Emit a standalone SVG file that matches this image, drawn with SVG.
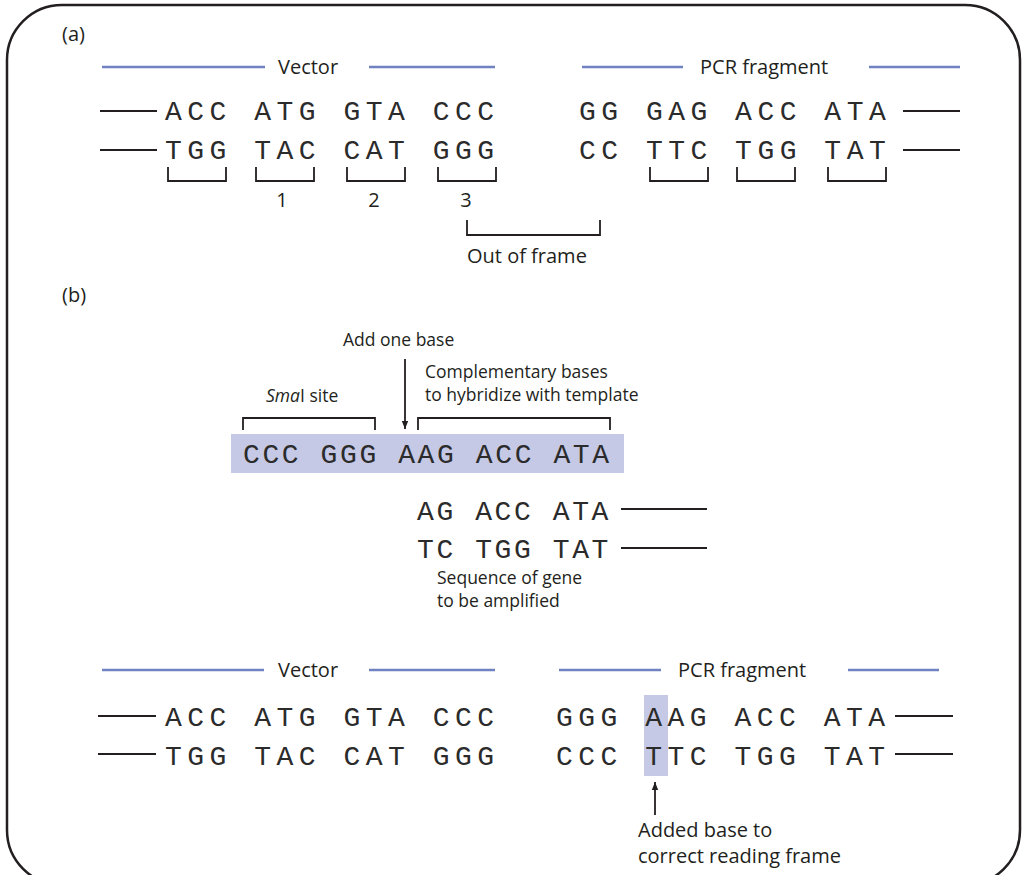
<svg xmlns="http://www.w3.org/2000/svg" width="1024" height="875" viewBox="0 0 1024 875">
<style>
.sans{font-family:"Open Sans","Noto Sans","Liberation Sans",sans-serif;font-size:20px;fill:#231f20}
.note{font-size:17.5px}
.mono{font-family:"Liberation Mono","Courier New",monospace;font-size:28px;fill:#2b2b2b}
.wide{letter-spacing:5.5px}
.tight{letter-spacing:2.6px}
.blue{stroke:#7182c2;stroke-width:2.5;fill:none}
.blk{stroke:#231f20;stroke-width:2;fill:none}
.br{stroke:#231f20;stroke-width:1.8;fill:none}
</style>
<defs>
<marker id="ah" viewBox="0 0 10 10" refX="10" refY="5" markerWidth="8" markerHeight="8" markerUnits="userSpaceOnUse" orient="auto"><path d="M0,1 L10,5 L0,9 Z" fill="#231f20"/></marker>
</defs>
<rect x="7" y="5" width="1013" height="880" rx="55" ry="55" fill="#fff" stroke="#231f20" stroke-width="2.5"/>

<g id="panel-a">
<text class="sans" x="62" y="41">(a)</text>
<g id="a-vector-label">
<line class="blue" x1="102" y1="67" x2="265" y2="67"/>
<text class="sans" x="278" y="74">Vector</text>
<line class="blue" x1="369" y1="67" x2="495" y2="67"/>
</g>
<g id="a-pcr-label">
<line class="blue" x1="582" y1="67" x2="683" y2="67"/>
<text class="sans" x="700" y="74">PCR fragment</text>
<line class="blue" x1="869" y1="67" x2="960" y2="67"/>
</g>
<g id="a-vector-seq">
<line class="blk" x1="100" y1="111" x2="157" y2="111"/>
<line class="blk" x1="100" y1="150" x2="157" y2="150"/>
<text class="mono wide" x="165" y="120">ACC ATG GTA CCC</text>
<text class="mono wide" x="165" y="159">TGG TAC CAT GGG</text>
</g>
<g id="a-pcr-seq">
<text class="mono wide" x="579" y="120">GG GAG ACC ATA</text>
<text class="mono wide" x="579" y="159">CC TTC TGG TAT</text>
<line class="blk" x1="903" y1="111" x2="960" y2="111"/>
<line class="blk" x1="903" y1="150" x2="960" y2="150"/>
</g>
<g id="a-codon-brackets">
<path class="br" d="M168,167 V181 H226 V167"/>
<path class="br" d="M256,167 V181 H314 V167"/>
<path class="br" d="M347,167 V181 H405 V167"/>
<path class="br" d="M438,167 V181 H496 V167"/>
<path class="br" d="M650,167 V181 H708 V167"/>
<path class="br" d="M737,167 V181 H795 V167"/>
<path class="br" d="M828,167 V181 H886 V167"/>
<text class="sans" x="282" y="207" text-anchor="middle">1</text>
<text class="sans" x="374" y="207" text-anchor="middle">2</text>
<text class="sans" x="466" y="207" text-anchor="middle">3</text>
</g>
<g id="a-out-of-frame">
<path class="br" d="M467,220 V235 H600 V220"/>
<text class="sans" x="467" y="263">Out of frame</text>
</g>
</g>

<g id="panel-b">
<text class="sans" x="62" y="302">(b)</text>
<g id="primer">
<rect x="231" y="434" width="393" height="39" fill="#c5c9e5"/>
<text class="mono tight" x="243" y="463">CCC GGG AAG ACC ATA</text>
<path class="br" d="M243,430 V418 H375 V430"/>
<path class="br" d="M418,430 V418 H610 V430"/>
<text class="sans note" x="266" y="402"><tspan font-style="italic">Sma</tspan>I site</text>
<text class="sans note" x="343" y="346">Add one base</text>
<text class="sans note" x="425" y="378">Complementary bases</text>
<text class="sans note" x="425" y="401">to hybridize with template</text>
</g>
<g id="template">
<text class="mono tight" x="417" y="520">AG ACC ATA</text>
<text class="mono tight" x="417" y="558">TC TGG TAT</text>
<line class="blk" x1="621" y1="509" x2="707" y2="509"/>
<line class="blk" x1="621" y1="548" x2="707" y2="548"/>
<text class="sans note" x="437" y="584">Sequence of gene</text>
<text class="sans note" x="437" y="607">to be amplified</text>
</g>
<g id="b-vector-label">
<line class="blue" x1="102" y1="670" x2="264" y2="670"/>
<text class="sans" x="278" y="677">Vector</text>
<line class="blue" x1="369" y1="670" x2="495" y2="670"/>
</g>
<g id="b-pcr-label">
<line class="blue" x1="559" y1="670" x2="661" y2="670"/>
<text class="sans" x="678" y="677">PCR fragment</text>
<line class="blue" x1="848" y1="670" x2="939" y2="670"/>
</g>
<g id="b-vector-seq">
<line class="blk" x1="98" y1="716" x2="156" y2="716"/>
<line class="blk" x1="98" y1="754" x2="156" y2="754"/>
<text class="mono wide" x="165" y="726">ACC ATG GTA CCC</text>
<text class="mono wide" x="165" y="765">TGG TAC CAT GGG</text>
</g>
<g id="b-pcr-seq">
<rect x="644" y="695" width="24" height="81" fill="#c5c9e5"/>
<text class="mono wide" x="556" y="726">GGG AAG ACC ATA</text>
<text class="mono wide" x="556" y="765">CCC TTC TGG TAT</text>
<line class="blk" x1="895" y1="716" x2="953" y2="716"/>
<line class="blk" x1="895" y1="754" x2="953" y2="754"/>
<text class="sans" x="638" y="837">Added base to</text>
<text class="sans" x="638" y="863">correct reading frame</text>
</g>
</g>

<g id="connectors">
<line class="br" x1="405" y1="359" x2="405" y2="429" marker-end="url(#ah)"/>
<line class="br" x1="655" y1="815" x2="655" y2="782" marker-end="url(#ah)"/>
</g>
</svg>
